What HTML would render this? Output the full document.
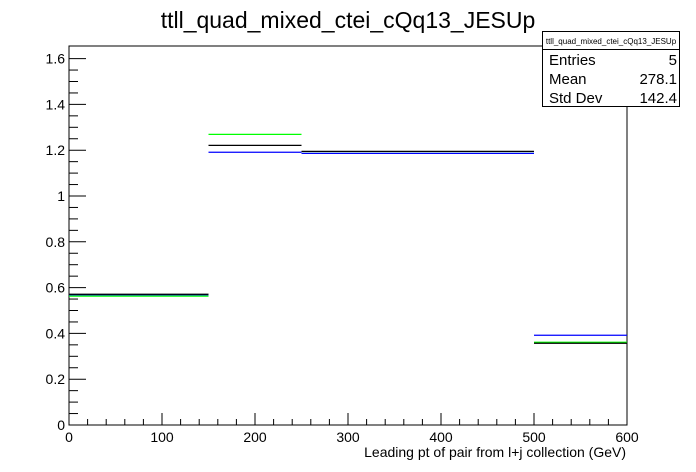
<!DOCTYPE html>
<html><head><meta charset="utf-8"><style>
body{margin:0;background:#fff;}
svg{display:block;font-family:"Liberation Sans",Arial,sans-serif;}
</style></head><body>
<svg id="c" width="696" height="472">
<rect width="696" height="472" fill="#fff"/>
<text x="348" y="28" font-size="23" text-anchor="middle">ttll_quad_mixed_ctei_cQq13_JESUp</text>
<rect x="69" y="46" width="558" height="379" fill="none" stroke="#000"/>
<g id="axes"></g>
<g id="series"></g>
<text x="626" y="457" font-size="14" text-anchor="end">Leading pt of pair from l+j collection (GeV)</text>
<g>
<rect x="542.5" y="31.5" width="137" height="75" fill="#fff" stroke="#000"/>
<line x1="542" y1="49.5" x2="680" y2="49.5" stroke="#000"/>
<text x="611" y="44" font-size="8" text-anchor="middle">ttll_quad_mixed_ctei_cQq13_JESUp</text>
<text x="549" y="65" font-size="15">Entries</text>
<text x="677" y="65" font-size="15" text-anchor="end">5</text>
<text x="549" y="84" font-size="15">Mean</text>
<text x="677" y="84" font-size="15" text-anchor="end">278.1</text>
<text x="549" y="103" font-size="15">Std Dev</text>
<text x="677" y="103" font-size="15" text-anchor="end">142.4</text>
</g>
</svg>
<script>
const binEdges=[0,150,250,500,600];
const greenVals=[0.563,1.269,1.186,0.361];
const blueVals=[0.569,1.191,1.186,0.392];
const blackVals=[0.571,1.221,1.195,0.357];
const xTicks=[0,100,200,300,400,500,600];
const yTicks=[0,0.2,0.4,0.6,0.8,1,1.2,1.4,1.6];
const NS="http://www.w3.org/2000/svg";
const X0=69,X1=627,Y0=425,YS=229;
function sx(v){return X0+(v-0)/600*(X1-X0);}
function sy(v){return Y0-v*YS;}
const ax=document.getElementById('axes');
function mk(t,a,p){const e=document.createElementNS(NS,t);for(const k in a)e.setAttribute(k,a[k]);p.appendChild(e);return e;}
xTicks.forEach((t,i)=>{
 const l=mk('line',{x1:sx(t),x2:sx(t),y1:Y0,y2:Y0-12,stroke:'#000'},ax);
 
 
 const tx=mk('text',{x:sx(t),y:Y0+17,'font-size':14,'text-anchor':'middle'},ax);
 tx.textContent=String(t);
 
 
 if(i<xTicks.length-1){for(let k=1;k<5;k++){const m=mk('line',{x1:sx(t+k*20),x2:sx(t+k*20),y1:Y0,y2:Y0-6,stroke:'#000'},ax);
 
 }}
});
yTicks.forEach((t,i)=>{
 const l=mk('line',{x1:X0,x2:X0+17,y1:sy(t),y2:sy(t),stroke:'#000'},ax);
 
 
 const tx=mk('text',{x:X0-4,y:sy(t)+5,'font-size':14,'text-anchor':'end'},ax);
 tx.textContent=String(t);
 
 
 for(let k=1;k<4;k++){const v=t+k*0.05;if(v>1.64)break;const m=mk('line',{x1:X0,x2:X0+9,y1:sy(v),y2:sy(v),stroke:'#000'},ax);
 
 }
});
const sg=document.getElementById('series');
[[greenVals,'#00ff00','green'],[blueVals,'#0000ff','blue'],[blackVals,'#000000','black']].forEach(([vals,col,nm])=>{
 vals.forEach((v,i)=>{
  const l=mk('line',{x1:sx(binEdges[i]),x2:sx(binEdges[i+1]),y1:sy(v),y2:sy(v),stroke:col,'stroke-width':1.3},sg);
  
  
 });
});
</script>
</body></html>
